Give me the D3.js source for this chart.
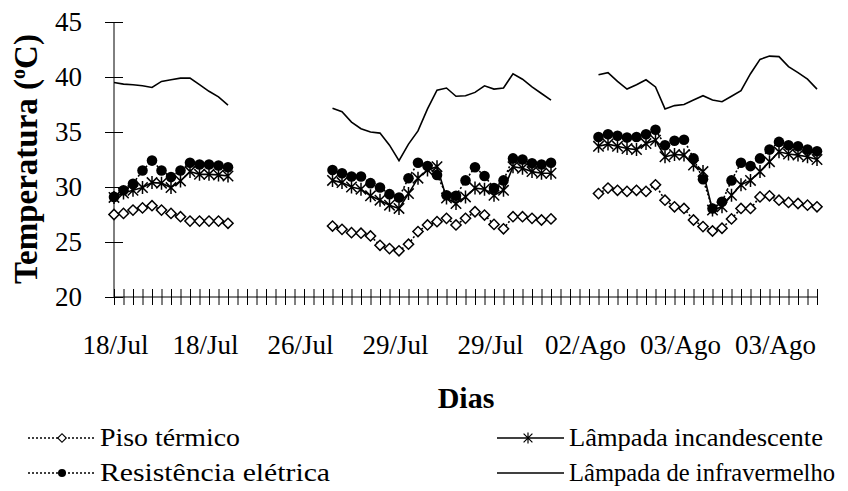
<!DOCTYPE html>
<html>
<head>
<meta charset="UTF-8">
<title>Temperatura por dia</title>
<script src="https://cdn.jsdelivr.net/npm/d3@7"></script>
<style>
body { margin: 0; background: #fff; }
</style>
</head>
<body>
<script>
var width = 848, height = 491;
var fonte = "'Liberation Serif', 'Times New Roman', serif";

// 75 leituras no eixo x, rótulo a cada 10
var nLeituras = 75;
var rotulos = ["18/Jul", "18/Jul", "26/Jul", "29/Jul", "29/Jul", "02/Ago", "03/Ago", "03/Ago"];
var yTicks = [20, 25, 30, 35, 40, 45];

var _ = null;
var piso = [
  27.5, 27.6, 27.9, 28.1, 28.3, 27.9, 27.6, 27.3, 26.9, 26.9, 26.9, 26.9, 26.7,
  _, _, _, _, _, _, _, _, _, _,
  26.45, 26.15, 25.85, 25.8, 25.55, 24.7, 24.4, 24.2, 24.8, 25.95, 26.55,
  26.85, 27.15, 26.55, 27.15, 27.75, 27.45, 26.6, 26.2, 27.3, 27.3, 27.15, 27.0, 27.1,
  _, _, _, _,
  29.4, 29.9, 29.7, 29.6, 29.7, 29.6, 30.2, 28.8, 28.2, 28.05, 27.0, 26.4,
  26.0, 26.25, 27.1, 28.05, 28.05, 29.1, 29.2, 28.8, 28.6, 28.5, 28.35, 28.2
];
var resistencia = [
  29.1, 29.7, 30.3, 31.5, 32.4, 31.5, 30.9, 31.5, 32.2, 32.05, 32.05, 31.95, 31.8,
  _, _, _, _, _, _, _, _, _, _,
  31.55, 31.25, 30.95, 30.95, 30.35, 29.95, 29.35, 29.05, 30.8, 32.2, 31.9,
  31.1, 29.25, 29.2, 30.6, 31.8, 31.0, 29.9, 30.6, 32.6, 32.5, 32.15, 32.05, 32.2,
  _, _, _, _,
  34.55, 34.8, 34.65, 34.5, 34.55, 34.8, 35.2, 33.8, 34.2, 34.3, 32.6, 30.7,
  28.05, 28.65, 30.6, 32.2, 31.9, 32.6, 33.4, 34.1, 33.8, 33.7, 33.4, 33.25
];
var incandescente = [
  29.05, 29.45, 29.7, 29.95, 30.4, 30.35, 29.95, 30.55, 31.4, 31.15, 31.15, 31.1, 31.0,
  _, _, _, _, _, _, _, _, _, _,
  30.6, 30.4, 30.0, 29.8, 29.2, 28.8, 28.35, 28.05, 29.4, 30.8, 31.55,
  31.85, 29.0, 28.5, 29.1, 29.9, 29.8, 29.25, 29.7, 31.85, 31.7, 31.4, 31.25, 31.25,
  _, _, _, _,
  33.7, 33.9, 33.7, 33.5, 33.4, 33.95, 34.25, 32.75, 32.95, 32.9, 32.0, 31.4,
  27.9, 28.2, 29.25, 30.2, 30.6, 31.4, 32.3, 33.2, 33.0, 32.9, 32.75, 32.5
];
var infravermelho = [
  39.5, 39.35, 39.3, 39.2, 39.05, 39.6, 39.75, 39.9, 39.9, 39.3, 38.7, 38.2, 37.45,
  _, _, _, _, _, _, _, _, _, _,
  37.15, 36.85, 35.9, 35.3, 35.0, 34.9, 33.8, 32.4, 33.9, 35.1, 37.1,
  38.8, 39.0, 38.25, 38.3, 38.6, 39.2, 38.9, 39.0, 40.3, 39.8, 39.1, 38.5, 37.9,
  _, _, _, _,
  40.2, 40.4, 39.6, 38.9, 39.3, 39.75, 39.1, 37.1, 37.4, 37.5, 37.9, 38.3,
  37.9, 37.75, 38.25, 38.75, 40.3, 41.6, 41.9, 41.85, 40.95, 40.4, 39.8, 38.9
];

var svg = d3.select("body").append("svg")
  .attr("width", width)
  .attr("height", height)
  .style("font-family", fonte);

var x = d3.scalePoint().domain(d3.range(nLeituras)).range([114, 817]);
var y = d3.scaleLinear().domain([20, 45]).range([297, 22]);

// eixo y, marcas atravessando a linha
var gy = svg.append("g")
  .attr("transform", "translate(114,0)")
  .call(d3.axisLeft(y).tickValues(yTicks).tickSize(9).tickPadding(23));
gy.attr("font-family", null).attr("font-size", null);
gy.select(".domain").attr("d", "M0," + y(45) + "V" + y(20)).attr("stroke", "#000");
gy.selectAll(".tick line").attr("x1", 9).attr("x2", -9).attr("stroke", "#000");
gy.selectAll(".tick text").attr("fill", "#000")
  .style("font-family", fonte).style("font-size", "27px");

// eixo x
var gx = svg.append("g")
  .attr("transform", "translate(0,297)")
  .call(d3.axisBottom(x)
    .tickSize(8)
    .tickFormat(function (d) { return d % 10 === 0 ? rotulos[d / 10] : ""; }));
gx.attr("font-family", null).attr("font-size", null);
gx.select(".domain").attr("d", "M114,0H817").attr("stroke", "#000");
gx.selectAll(".tick line").attr("y1", -8).attr("y2", 8).attr("stroke", "#000");
gx.selectAll(".tick text").attr("y", 0).attr("dy", 0).attr("fill", "#000")
  .attr("transform", function (d) { return "translate(" + (d === 0 ? 1 : -4) + ",57)"; })
  .style("font-family", fonte).style("font-size", "27px");

// títulos
svg.append("text")
  .attr("x", 466).attr("y", 408)
  .attr("text-anchor", "middle")
  .style("font-family", fonte)
  .style("font-size", "30px").style("font-weight", "bold")
  .text("Dias");

var ty = svg.append("text")
  .attr("transform", "translate(37,159) rotate(-90)")
  .attr("text-anchor", "middle")
  .style("font-family", fonte)
  .style("font-size", "33px").style("font-weight", "bold");
ty.append("tspan").text("Temperatura (");
ty.append("tspan").attr("dy", -12).style("font-size", "20px").text("o");
ty.append("tspan").attr("dy", 12).text("C)");

// simbolo asterisco (X com traço vertical)
function asterisco(r) {
  var p = d3.path();
  var a = r * 0.8;
  p.moveTo(-a, -a); p.lineTo(a, a);
  p.moveTo(-a, a); p.lineTo(a, -a);
  p.moveTo(0, -r); p.lineTo(0, r);
  return p.toString();
}

var linha = d3.line()
  .defined(function (d) { return d != null; })
  .x(function (d, i) { return x(i); })
  .y(function (d) { return y(d); });

function pontos(serie) {
  return serie.map(function (v, i) { return { i: i, v: v }; })
    .filter(function (d) { return d.v != null; });
}

var area = svg.append("g");

// infravermelho
area.append("path").datum(infravermelho)
  .attr("d", linha).attr("fill", "none").attr("stroke", "#000").attr("stroke-width", 1.6);

// incandescente
area.append("path").datum(incandescente)
  .attr("d", linha).attr("fill", "none").attr("stroke", "#000").attr("stroke-width", 1.6);
area.selectAll(".ast").data(pontos(incandescente)).enter().append("path")
  .attr("transform", function (d) { return "translate(" + x(d.i) + "," + y(d.v) + ")"; })
  .attr("d", asterisco(6.5)).attr("stroke", "#000").attr("stroke-width", 1.5).attr("fill", "none");

// resistência
area.append("path").datum(resistencia)
  .attr("d", linha).attr("fill", "none").attr("stroke", "#000")
  .attr("stroke-width", 1.6).attr("stroke-dasharray", "2,2");
area.selectAll(".circ").data(pontos(resistencia)).enter().append("circle")
  .attr("cx", function (d) { return x(d.i); })
  .attr("cy", function (d) { return y(d.v); })
  .attr("r", 5.3).attr("fill", "#000");

// piso
area.append("path").datum(piso)
  .attr("d", linha).attr("fill", "none").attr("stroke", "#000")
  .attr("stroke-width", 1.6).attr("stroke-dasharray", "2,2");
area.selectAll(".diam").data(pontos(piso)).enter().append("path")
  .attr("transform", function (d) { return "translate(" + x(d.i) + "," + y(d.v) + ") rotate(45)"; })
  .attr("d", "M-3.6,-3.6H3.6V3.6H-3.6Z")
  .attr("fill", "#fff").attr("stroke", "#000").attr("stroke-width", 1.5);

// legenda
var legenda = [
  { nome: "Piso térmico", x: 28, y: 438, tipo: "diamante", traco: "2,2", largura: 140 },
  { nome: "Lâmpada incandescente", x: 497, y: 438, tipo: "asterisco", traco: null, largura: 254 },
  { nome: "Resistência elétrica", x: 28, y: 473, tipo: "circulo", traco: "2,2", largura: 230 },
  { nome: "Lâmpada de infravermelho", x: 497, y: 473, tipo: null, traco: null, largura: 266 }
];
var lg = svg.selectAll(".leg").data(legenda).enter().append("g")
  .attr("transform", function (d) { return "translate(" + d.x + "," + d.y + ")"; });
lg.append("line").attr("x1", 0).attr("x2", 67).attr("stroke", "#000")
  .attr("stroke-width", 1.4)
  .attr("stroke-dasharray", function (d) { return d.traco; });
lg.each(function (d) {
  var g = d3.select(this);
  if (d.tipo === "diamante") {
    g.append("path").attr("transform", "translate(34,0) rotate(45)")
      .attr("d", "M-3,-3H3V3H-3Z").attr("fill", "#fff").attr("stroke", "#000").attr("stroke-width", 1.2);
  } else if (d.tipo === "circulo") {
    g.append("circle").attr("cx", 34).attr("r", 4).attr("fill", "#000");
  } else if (d.tipo === "asterisco") {
    g.append("path").attr("transform", "translate(31,0)").attr("d", asterisco(5.5))
      .attr("stroke", "#000").attr("stroke-width", 1.2).attr("fill", "none");
  }
});
lg.append("text").attr("x", 72).attr("y", 8)
  .attr("textLength", function (d) { return d.largura; })
  .attr("lengthAdjust", "spacingAndGlyphs")
  .style("font-family", fonte)
  .style("font-size", "25px")
  .text(function (d) { return d.nome; });
</script>
</body>
</html>
